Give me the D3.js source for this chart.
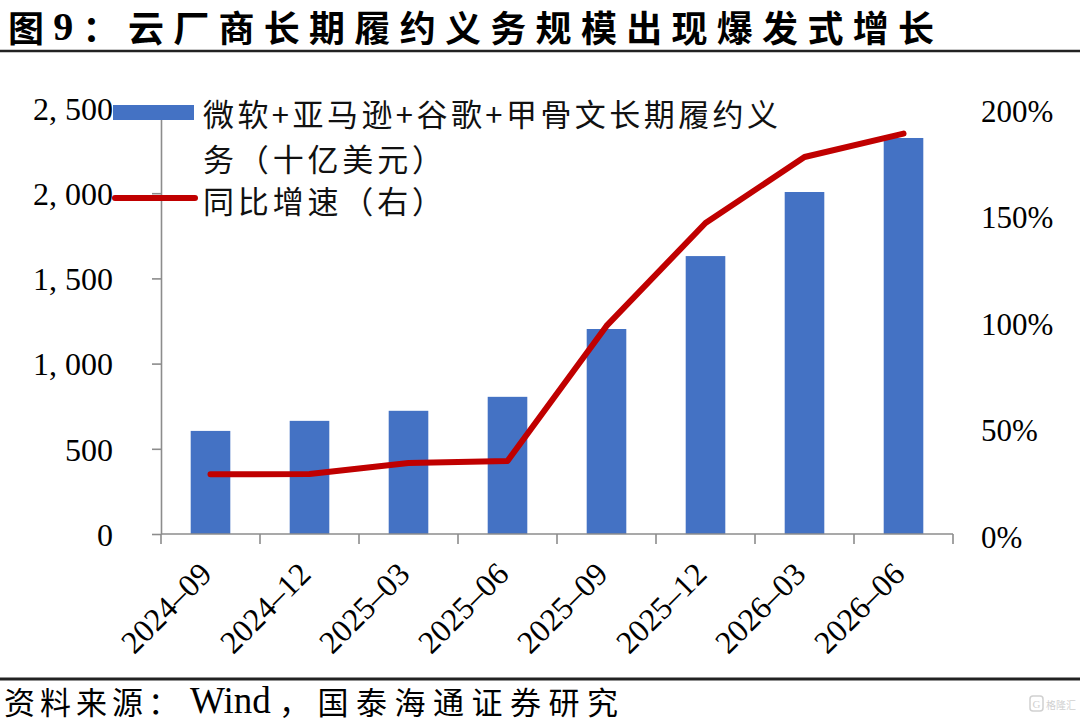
<!DOCTYPE html>
<html>
<head>
<meta charset="utf-8">
<script src="https://cdn.jsdelivr.net/npm/d3@7/dist/d3.min.js"></script>
<style>
  html, body { margin: 0; padding: 0; background: #ffffff; }
  svg { display: block; }
</style>
</head>
<body>
<svg id="chart" width="1080" height="724"></svg>
<script>
// ---- data ----
const categories = ["2024-09", "2024-12", "2025-03", "2025-06", "2025-09", "2025-12", "2026-03", "2026-06"];
const rpoValues = [605, 664, 723, 805, 1203, 1631, 2007, 2324];           // 十亿美元
const yoyValues = [0.28, 0.282, 0.333, 0.343, 0.977, 1.46, 1.77, 1.88];   // 同比增速
const leftTicks = [0, 500, 1000, 1500, 2000, 2500];
const rightTicks = [0, 0.5, 1.0, 1.5, 2.0];
const titleText = ["图", "9", "：云厂商长期履约义务规模出现爆发式增长"];
const legendBarLines = ["微软+亚马逊+谷歌+甲骨文长期履约义", "务（十亿美元）"];
const legendLineText = "同比增速（右）";
const sourceText = ["资料来源：", "Wind", "，国泰海通证券研究"];

(function () {
// ---- setup ----
const svg = d3.select("#chart");
const CJK = "'Noto Sans CJK SC', sans-serif";
const SERIF = "'Liberation Serif', 'Times New Roman', serif";
const BLUE = "#4472C4", RED = "#C00000", AXIS = "#8c8c8c";

const pLeft = 161, pRight = 953, pTop = 108, pBottom = 534;

const xb = d3.scaleBand().domain(categories).range([pLeft, pRight]).padding(0);
const y = d3.scaleLinear().domain([0, 2500]).range([pBottom, pTop]);
const y2 = d3.scaleLinear().domain([0, 2]).range([pBottom, pTop]);

// ---- title ----
const t = svg.append("text")
  .attr("x", 8).attr("y", 26)
  .attr("dominant-baseline", "central")
  .attr("font-size", 36).attr("font-weight", 700)
  .attr("font-family", CJK).attr("fill", "#000")
  .attr("textLength", 926).attr("lengthAdjust", "spacing");
t.append("tspan").text(titleText[0]);
t.append("tspan").attr("font-family", SERIF).attr("font-size", 40).text(titleText[1]);
t.append("tspan").text(titleText[2]);

svg.append("line").attr("x1", 0).attr("x2", 1080).attr("y1", 51).attr("y2", 51)
  .attr("stroke", "#222").attr("stroke-width", 2.5);

// ---- bars ----
svg.append("g").selectAll("rect").data(categories).join("rect")
  .attr("x", (d) => xb(d) + xb.bandwidth() * 0.3)
  .attr("width", xb.bandwidth() * 0.4)
  .attr("y", (d, i) => y(rpoValues[i]))
  .attr("height", (d, i) => y(0) - y(rpoValues[i]))
  .attr("fill", BLUE);

// ---- left axis ----
const gL = svg.append("g").attr("transform", `translate(${pLeft},0)`)
  .call(d3.axisLeft(y).tickValues(leftTicks).tickSize(9).tickSizeOuter(0)
    .tickFormat((d) => d3.format(",")(d).replace(",", ", ")));
gL.select(".domain").attr("stroke", AXIS).attr("stroke-width", 1.6);
gL.selectAll(".tick line").attr("stroke", AXIS).attr("stroke-width", 1.6);
gL.selectAll(".tick text").attr("x", -48).attr("dy", "0.35em")
  .attr("font-family", SERIF).attr("font-size", 32).attr("fill", "#000");

// ---- right axis (labels only) ----
const gR = svg.append("g").attr("transform", `translate(${pRight},0)`)
  .call(d3.axisRight(y2).tickValues(rightTicks).tickSize(0)
    .tickFormat(d3.format(".0%")));
gR.select(".domain").remove();
gR.selectAll(".tick text").attr("x", 28).attr("dy", "0.42em")
  .attr("font-family", SERIF).attr("font-size", 31).attr("fill", "#000");

// ---- x axis ----
const gX = svg.append("g").attr("transform", `translate(0,${pBottom})`);
gX.append("line").attr("x1", pLeft).attr("x2", pRight).attr("y1", 0).attr("y2", 0)
  .attr("stroke", AXIS).attr("stroke-width", 1.6);
const boundaries = categories.map((c) => xb(c)).concat([xb.range()[1]]);
gX.selectAll("line.tk").data(boundaries).join("line").attr("class", "tk")
  .attr("x1", (d) => d).attr("x2", (d) => d).attr("y1", 0).attr("y2", 10)
  .attr("stroke", AXIS).attr("stroke-width", 1.6);
gX.selectAll("text").data(categories).join("text")
  .attr("transform", (d) => `translate(${xb(d) + xb.bandwidth() / 2 + 3},${42}) rotate(-45)`)
  .attr("text-anchor", "end")
  .attr("font-family", SERIF).attr("font-size", 32).attr("fill", "#000")
  .text((d) => d.replace("-", "–"));

// ---- line ----
const line = d3.line()
  .x((d, i) => xb(categories[i]) + xb.bandwidth() / 2)
  .y((d) => y2(d));
svg.append("path").datum(yoyValues)
  .attr("d", line)
  .attr("fill", "none").attr("stroke", RED).attr("stroke-width", 6)
  .attr("stroke-linejoin", "round").attr("stroke-linecap", "round");

// ---- legend ----
const lg = svg.append("g");
lg.append("rect").attr("x", 113).attr("y", 105).attr("width", 81).attr("height", 15).attr("fill", BLUE);
lg.append("line").attr("x1", 115).attr("x2", 195).attr("y1", 198).attr("y2", 198)
  .attr("stroke", RED).attr("stroke-width", 6).attr("stroke-linecap", "round");
const legendRows = [
  { text: legendBarLines[0], y: 112, len: 575 },
  { text: legendBarLines[1], y: 157, len: 240 },
  { text: legendLineText, y: 199, len: 240 }
];
lg.selectAll("text").data(legendRows).join("text")
  .attr("x", 203).attr("y", (d) => d.y)
  .attr("dominant-baseline", "central")
  .attr("font-family", CJK).attr("font-size", 31).attr("fill", "#111")
  .attr("textLength", (d) => d.len).attr("lengthAdjust", "spacing")
  .text((d) => d.text);

// ---- footer ----
svg.append("line").attr("x1", 0).attr("x2", 1080).attr("y1", 679).attr("y2", 679)
  .attr("stroke", "#222").attr("stroke-width", 3);
const ft = svg.append("text").attr("y", 700)
  .attr("dominant-baseline", "central")
  .attr("font-family", CJK).attr("font-size", 31).attr("fill", "#000");
ft.append("tspan").attr("x", 4).attr("letter-spacing", 5).text(sourceText[0]);
ft.append("tspan").attr("x", 190).attr("font-family", SERIF).attr("font-size", 37).text(sourceText[1]);
ft.append("tspan").attr("x", 279).attr("letter-spacing", 7.5).text(sourceText[2]);

// watermark
const wm = svg.append("g").attr("opacity", 0.45);
wm.append("rect").attr("x", 1030).attr("y", 696).attr("width", 13).attr("height", 15)
  .attr("rx", 3).attr("fill", "none").attr("stroke", "#999").attr("stroke-width", 1.5);
wm.append("text").attr("x", 1036.5).attr("y", 704).attr("text-anchor", "middle")
  .attr("dominant-baseline", "central").attr("font-family", SERIF).attr("font-size", 11)
  .attr("fill", "#999").text("G");
wm.append("text").attr("x", 1046).attr("y", 704).attr("dominant-baseline", "central")
  .attr("font-family", CJK).attr("font-size", 10).attr("fill", "#999")
  .attr("textLength", 30).attr("lengthAdjust", "spacingAndGlyphs").text("格隆汇");
})();
</script>
</body>
</html>
